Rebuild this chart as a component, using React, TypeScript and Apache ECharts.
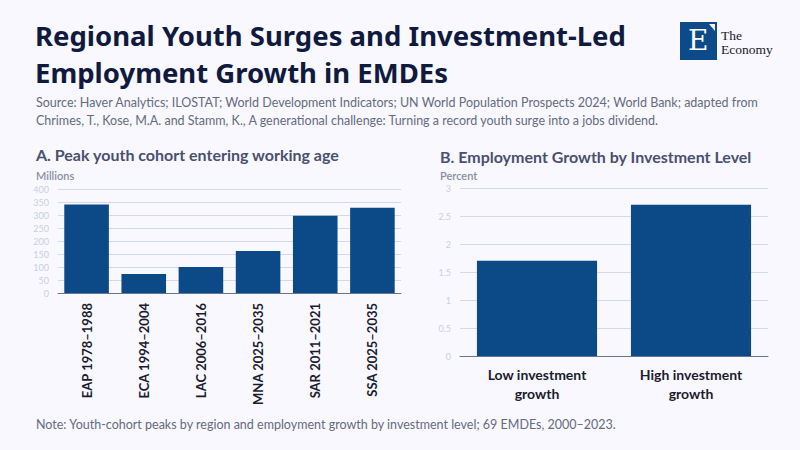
import React, { useEffect, useRef } from "react";
import * as echarts from "echarts";

const regionCategories = ["EAP 1978–1988", "ECA 1994–2004", "LAC 2006–2016", "MNA 2025–2035", "SAR 2011–2021", "SSA 2025–2035"];
const cohortMillions = [340, 73, 100, 162, 297, 328];
const leftTicks = [0, 50, 100, 150, 200, 250, 300, 350, 400];

const investCategories = ["Low investment\ngrowth", "High investment\ngrowth"];
const employmentGrowth = [1.7, 2.7];
const rightTicks = [0, 0.5, 1, 1.5, 2, 2.5, 3];

const FONT = "Lato, 'Noto Sans', sans-serif";
const TITLE_FONT = "'Noto Sans', Lato, sans-serif";
const BAR = "#0b4a87";

export default function App() {
  const ref = useRef<HTMLDivElement>(null);
  useEffect(() => {
    const chart = echarts.init(ref.current!, null, { renderer: "svg" });
    const yAxisCommon = {
      type: "value" as const,
      axisLine: { show: false },
      axisTick: { show: false },
      splitLine: { lineStyle: { color: "#d3d9e8", width: 1 } },
      axisLabel: { color: "#c9cfdf", fontSize: 9, fontFamily: FONT, margin: 9 },
    };
    chart.setOption({
      animation: false,
      backgroundColor: "#f8f8fe",
      textStyle: { fontFamily: FONT },
      grid: [
        { left: 58, right: 399, top: 189, bottom: 157 },
        { left: 460, right: 32, top: 188, bottom: 94 },
      ],
      xAxis: [
        {
          type: "category",
          gridIndex: 0,
          data: regionCategories,
          axisLine: { lineStyle: { color: "#6b7590" } },
          axisTick: { show: false },
          axisLabel: { rotate: 90, color: "#1c1c2e", fontSize: 13, fontWeight: 700, fontFamily: FONT, margin: 10, interval: 0 },
        },
        {
          type: "category",
          gridIndex: 1,
          data: investCategories,
          axisLine: { lineStyle: { color: "#6b7590" } },
          axisTick: { show: false },
          axisLabel: { color: "#1c1c2e", fontSize: 14, fontWeight: 700, fontFamily: FONT, margin: 9, lineHeight: 19, interval: 0 },
        },
      ],
      yAxis: [
        { ...yAxisCommon, gridIndex: 0, min: leftTicks[0], max: leftTicks[leftTicks.length - 1], interval: 50 },
        { ...yAxisCommon, gridIndex: 1, min: rightTicks[0], max: rightTicks[rightTicks.length - 1], interval: 0.5 },
      ],
      series: [
        { type: "bar", xAxisIndex: 0, yAxisIndex: 0, data: cohortMillions, barWidth: "78%", itemStyle: { color: BAR } },
        { type: "bar", xAxisIndex: 1, yAxisIndex: 1, data: employmentGrowth, barWidth: "78%", itemStyle: { color: BAR } },
      ],
      graphic: [
        { type: "text", left: 35, top: 21, style: { text: "Regional Youth Surges and Investment-Led", font: `bold 27.5px ${TITLE_FONT}`, fill: "#101a3e" } },
        { type: "text", left: 35, top: 58, style: { text: "Employment Growth in EMDEs", font: `bold 27.5px ${TITLE_FONT}`, fill: "#101a3e" } },
        { type: "text", left: 36, top: 96, style: { text: "Source: Haver Analytics; ILOSTAT; World Development Indicators; UN World Population Prospects 2024; World Bank; adapted from", font: `12.5px ${FONT}`, fill: "#666b80" } },
        { type: "text", left: 36, top: 114, style: { text: "Chrimes, T., Kose, M.A. and Stamm, K., A generational challenge: Turning a record youth surge into a jobs dividend.", font: `12.5px ${FONT}`, fill: "#666b80" } },
        { type: "text", left: 36, top: 146, style: { text: "A. Peak youth cohort entering working age", font: `bold 16px ${FONT}`, fill: "#4a5070" } },
        { type: "text", left: 36, top: 170, style: { text: "Millions", font: `600 11px ${FONT}`, fill: "#8a8fa3" } },
        { type: "text", left: 440, top: 148, style: { text: "B. Employment Growth by Investment Level", font: `bold 16px ${FONT}`, fill: "#4a5070" } },
        { type: "text", left: 440, top: 170, style: { text: "Percent", font: `600 11px ${FONT}`, fill: "#8a8fa3" } },
        { type: "text", left: 36, top: 418, style: { text: "Note: Youth-cohort peaks by region and employment growth by investment level; 69 EMDEs, 2000–2023.", font: `12.5px ${FONT}`, fill: "#666b80" } },
        { type: "rect", shape: { x: 680, y: 22, width: 37, height: 38 }, style: { fill: "#0d4a89" } },
        { type: "polygon", shape: { points: [[709, 24], [715, 24], [715, 31]] }, style: { fill: "#ffffff" } },
        { type: "text", left: 688, top: 26, style: { text: "E", font: `28px 'DejaVu Serif', serif`, fill: "#ffffff" } },
        { type: "text", left: 721, top: 28, style: { text: "The", font: `13.5px 'Liberation Serif', serif`, fill: "#1a1a2a" } },
        { type: "text", left: 721, top: 42, style: { text: "Economy", font: `13.5px 'Liberation Serif', serif`, fill: "#1a1a2a" } },
      ],
    });
    return () => chart.dispose();
  }, []);
  return <div ref={ref} style={{ width: 800, height: 450, position: "absolute", left: 0, top: 0 }} />;
}
